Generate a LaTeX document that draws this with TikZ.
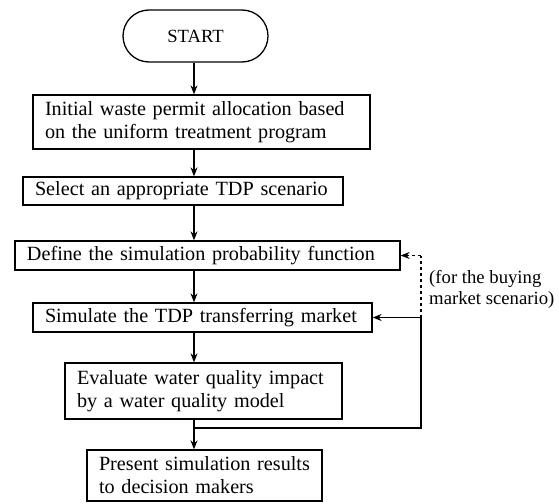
\documentclass[tikz,border=0pt]{standalone}
\usepackage{fontspec}
\setmainfont{Liberation Serif}
\usetikzlibrary{arrows.meta}
\begin{document}
\begin{tikzpicture}[x=1pt,y=-1pt,
  box/.style={draw, line width=1.3pt, rectangle, inner xsep=12pt, inner ysep=0pt, align=left, font=\fontsize{20.2}{23}\selectfont},
  arr/.style={-{Stealth[length=9pt,width=7pt]}, line width=1.3pt},
  conn/.style={line width=1.3pt},
  dashconn/.style={line width=1.3pt, dash pattern=on 3pt off 3pt},
]
\useasboundingbox (0,0) rectangle (559,503);
\coordinate (ax) at (194,0);
\node[draw, rounded corners=26pt, minimum width=145pt, minimum height=52pt, line width=1.3pt, font=\fontsize{18.6}{22}\selectfont] (start) at (195.5,36) {START};
\node[box, minimum height=54pt, text width=313pt] (b1) at (201.5,122) {\mbox{Initial waste permit allocation based}\\\mbox{on the uniform treatment program}};
\node[box, minimum height=28pt, text width=296pt] (b2) at (183,191) {\mbox{Select an appropriate TDP scenario}};
\node[box, minimum height=29pt, text width=361pt] (b3) at (207.5,255.5) {\mbox{Define the simulation probability function}};
\node[box, minimum height=29pt, text width=315pt] (b4) at (202.5,317.5) {\mbox{Simulate the TDP transferring market}};
\node[box, minimum height=56pt, text width=253pt] (b5) at (203.5,391) {\mbox{Evaluate water quality impact}\\\mbox{by a water quality model}};
\node[box, minimum height=51pt, text width=211pt] (b6) at (204.5,475.5) {\mbox{Present simulation results}\\\mbox{to decision makers}};
\node[anchor=west, align=left, inner sep=0pt, font=\fontsize{18.7}{21}\selectfont] (lab) at (429,289) {(for the buying\\market scenario)};
\coordinate (j) at (194,428);
\coordinate (r) at (421,428);
\draw[arr] (start.south -| ax) -- (b1.north -| ax);
\draw[arr] (b1.south -| ax) -- (b2.north -| ax);
\draw[arr] (b2.south -| ax) -- (b3.north -| ax);
\draw[arr] (b3.south -| ax) -- (b4.north -| ax);
\draw[arr] (b4.south -| ax) -- (b5.north -| ax);
\draw[arr] (b5.south -| ax) -- (b6.north -| ax);
\draw[conn] (j) -- (r) -- (r |- b4.east);
\draw[arr] (r |- b4.east) -- (b4.east);
\draw[dashconn] (r |- b4.east) -- (r |- b3.east);
\draw[arr, dash pattern=on 3pt off 3pt] (r |- b3.east) -- (b3.east);
\end{tikzpicture}
\end{document}
